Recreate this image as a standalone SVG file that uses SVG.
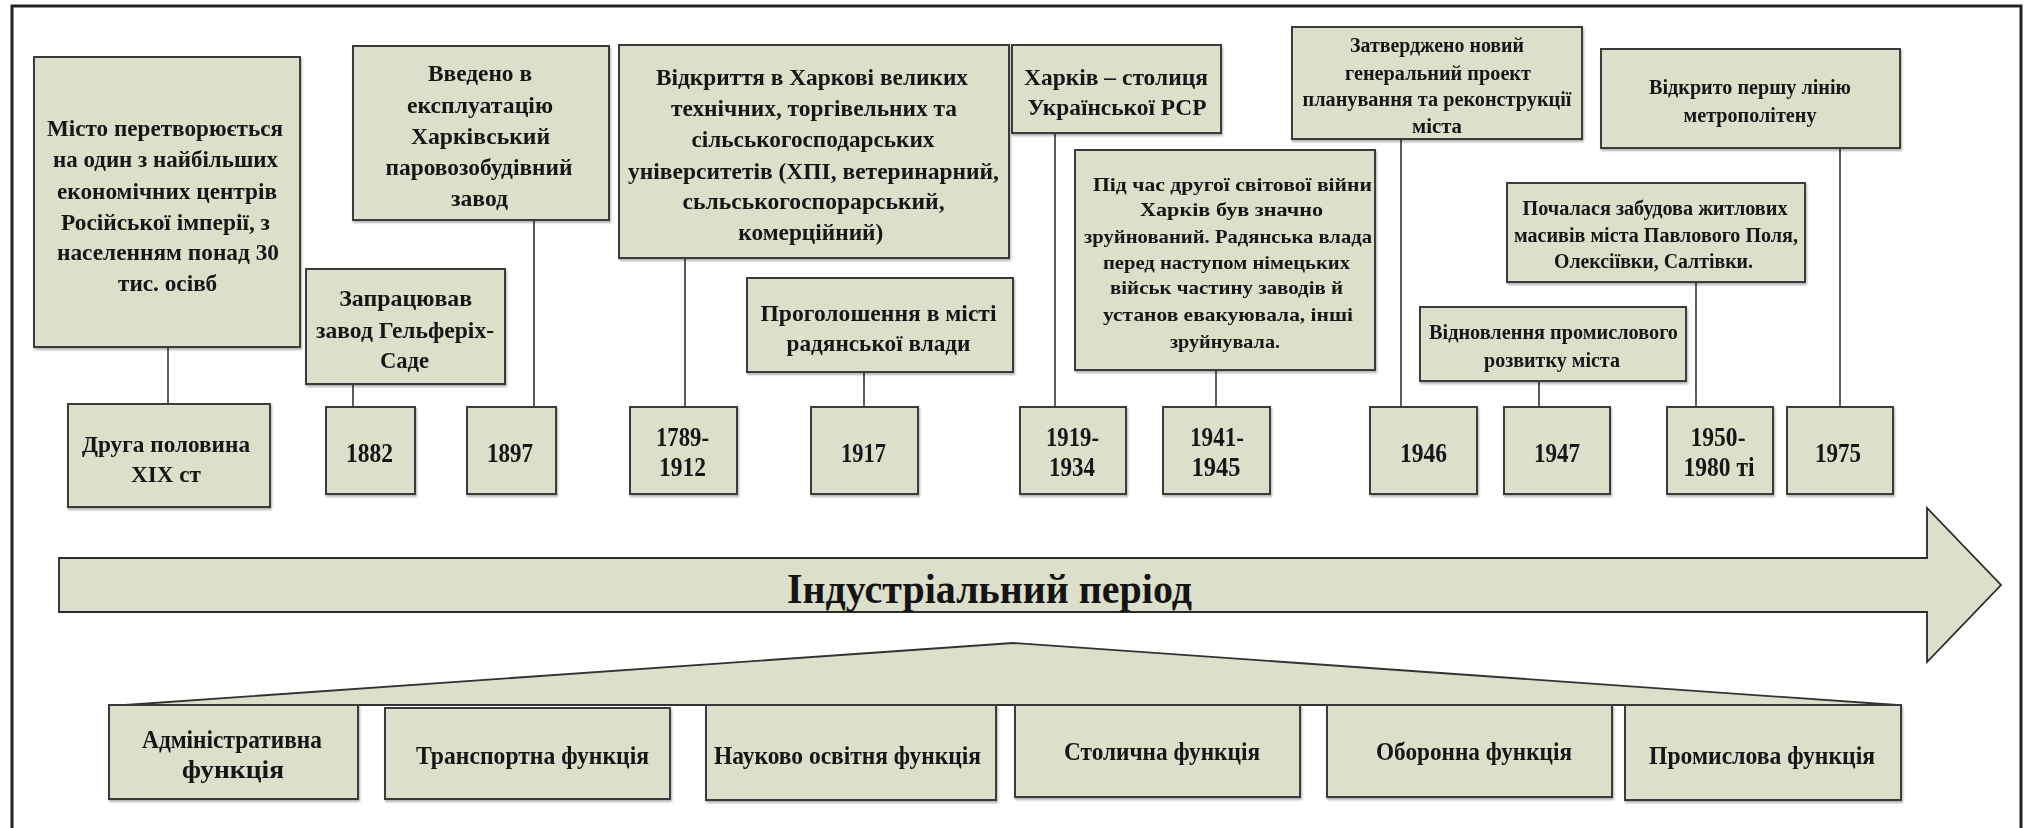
<svg xmlns="http://www.w3.org/2000/svg" width="2033" height="828" viewBox="0 0 2033 828">
<style>
.b{fill:#DCE0CA;stroke:#3a3a3a;stroke-width:2}
.sh{filter:url(#shadow)}
text{font-family:"Liberation Serif","Times New Roman",serif;font-weight:bold;fill:#141414;text-anchor:middle}
.t23{font-size:24px}
.tf{font-size:25px}
.t24{font-size:27px}
.t19{font-size:20px}
.t18{font-size:19px}
.t42{font-size:43px}
.c line{stroke:#333;stroke-width:1.6}
</style>
<defs>
<filter id="shadow" x="-5%" y="-5%" width="112%" height="115%">
<feDropShadow dx="1" dy="2" stdDeviation="1" flood-color="#000" flood-opacity="0.3"/>
</filter>
</defs>
<rect x="0" y="0" width="2033" height="828" fill="#ffffff"/>
<rect x="12" y="6" width="2009" height="830" fill="#ffffff" stroke="#222" stroke-width="3"/>

<g class="c" id="connectors">
<line x1="168" y1="347" x2="168" y2="404"/>
<line x1="353" y1="384" x2="353" y2="407"/>
<line x1="534" y1="220" x2="534" y2="407"/>
<line x1="685" y1="258" x2="685" y2="407"/>
<line x1="864" y1="372" x2="864" y2="407"/>
<line x1="1055" y1="133" x2="1055" y2="407"/>
<line x1="1216" y1="370" x2="1216" y2="407"/>
<line x1="1401" y1="139" x2="1401" y2="407"/>
<line x1="1539" y1="381" x2="1539" y2="407"/>
<line x1="1696" y1="282" x2="1696" y2="407"/>
<line x1="1840" y1="148" x2="1840" y2="407"/>
</g>

<g id="n-misto" class="sh">
<rect class="b" x="34" y="57" width="266" height="290"/>
<text class="t23" x="165" y="136" textLength="236" lengthAdjust="spacingAndGlyphs">Місто перетворюється</text>
<text class="t23" x="165.5" y="167" textLength="225" lengthAdjust="spacingAndGlyphs">на один з найбільших</text>
<text class="t23" x="167" y="199" textLength="220" lengthAdjust="spacingAndGlyphs">економічних центрів</text>
<text class="t23" x="165.5" y="230" textLength="209" lengthAdjust="spacingAndGlyphs">Російської імперії, з</text>
<text class="t23" x="168" y="260" textLength="222" lengthAdjust="spacingAndGlyphs">населенням понад 30</text>
<text class="t23" x="167.5" y="291" textLength="99" lengthAdjust="spacingAndGlyphs">тис. осівб</text>
</g>

<g id="n-druha" class="sh">
<rect class="b" x="68" y="404" width="202" height="103"/>
<text class="t23" x="166" y="452" textLength="168" lengthAdjust="spacingAndGlyphs">Друга половина</text>
<text class="t23" x="166" y="482" textLength="70" lengthAdjust="spacingAndGlyphs">XIX ст</text>
</g>

<g id="n-zapratsiuvav" class="sh">
<rect class="b" x="306" y="269" width="199" height="115"/>
<text class="t23" x="405.7" y="306" textLength="133" lengthAdjust="spacingAndGlyphs">Запрацював</text>
<text class="t23" x="405" y="338" textLength="178" lengthAdjust="spacingAndGlyphs">завод Гельферіх-</text>
<text class="t23" x="404.5" y="368" textLength="49" lengthAdjust="spacingAndGlyphs">Саде</text>
</g>

<g id="n-1882" class="sh">
<rect class="b" x="326" y="407" width="89" height="87"/>
<text class="t24" x="369.5" y="462" textLength="47" lengthAdjust="spacingAndGlyphs">1882</text>
</g>

<g id="n-vvedeno" class="sh">
<rect class="b" x="353" y="46" width="256" height="174"/>
<text class="t23" x="480" y="81" textLength="104" lengthAdjust="spacingAndGlyphs">Введено в</text>
<text class="t23" x="480" y="113" textLength="146" lengthAdjust="spacingAndGlyphs">експлуатацію</text>
<text class="t23" x="480.5" y="144" textLength="139" lengthAdjust="spacingAndGlyphs">Харківський</text>
<text class="t23" x="479" y="175" textLength="187" lengthAdjust="spacingAndGlyphs">паровозобудівний</text>
<text class="t23" x="479.5" y="206" textLength="57" lengthAdjust="spacingAndGlyphs">завод</text>
</g>

<g id="n-1897" class="sh">
<rect class="b" x="467" y="407" width="89" height="87"/>
<text class="t24" x="510" y="462" textLength="46" lengthAdjust="spacingAndGlyphs">1897</text>
</g>

<g id="n-vidkryttia" class="sh">
<rect class="b" x="619" y="45" width="390" height="213"/>
<text class="t23" x="812" y="85" textLength="312" lengthAdjust="spacingAndGlyphs">Відкриття в Харкові великих</text>
<text class="t23" x="814" y="116" textLength="286" lengthAdjust="spacingAndGlyphs">технічних, торгівельних та</text>
<text class="t23" x="813" y="147" textLength="243" lengthAdjust="spacingAndGlyphs">сільськогосподарських</text>
<text class="t23" x="813.5" y="179" textLength="371" lengthAdjust="spacingAndGlyphs">університетів (ХПІ, ветеринарний,</text>
<text class="t23" x="813.6" y="209" textLength="262" lengthAdjust="spacingAndGlyphs">сьльськогоспорарський,</text>
<text class="t23" x="810.8" y="240" textLength="145" lengthAdjust="spacingAndGlyphs">комерційний)</text>
</g>

<g id="n-1789" class="sh">
<rect class="b" x="630" y="407" width="107" height="87"/>
<text class="t24" x="682.5" y="446" textLength="53" lengthAdjust="spacingAndGlyphs">1789-</text>
<text class="t24" x="682.5" y="476" textLength="47" lengthAdjust="spacingAndGlyphs">1912</text>
</g>

<g id="n-proholoshennia" class="sh">
<rect class="b" x="747" y="278" width="266" height="94"/>
<text class="t23" x="878.5" y="321" textLength="236" lengthAdjust="spacingAndGlyphs">Проголошення в місті</text>
<text class="t23" x="878.5" y="351" textLength="184" lengthAdjust="spacingAndGlyphs">радянської влади</text>
</g>

<g id="n-1917" class="sh">
<rect class="b" x="811" y="407" width="107" height="87"/>
<text class="t24" x="863.5" y="462" textLength="45" lengthAdjust="spacingAndGlyphs">1917</text>
</g>

<g id="n-stolytsia" class="sh">
<rect class="b" x="1012" y="45" width="209" height="88"/>
<text class="t23" x="1116" y="85" textLength="184" lengthAdjust="spacingAndGlyphs">Харків – столиця</text>
<text class="t23" x="1117" y="115" textLength="179" lengthAdjust="spacingAndGlyphs">Української РСР</text>
</g>

<g id="n-1919" class="sh">
<rect class="b" x="1020" y="407" width="106" height="87"/>
<text class="t24" x="1072.5" y="446" textLength="53" lengthAdjust="spacingAndGlyphs">1919-</text>
<text class="t24" x="1072" y="476" textLength="46" lengthAdjust="spacingAndGlyphs">1934</text>
</g>

<g id="n-viina" class="sh">
<rect class="b" x="1075" y="150" width="300" height="220"/>
<text class="t18" x="1232.5" y="191" textLength="279" lengthAdjust="spacingAndGlyphs">Під час другої світової війни</text>
<text class="t18" x="1231.5" y="216" textLength="183" lengthAdjust="spacingAndGlyphs">Харків був значно</text>
<text class="t18" x="1228" y="243" textLength="288" lengthAdjust="spacingAndGlyphs">зруйнований. Радянська влада</text>
<text class="t18" x="1226.5" y="269" textLength="247" lengthAdjust="spacingAndGlyphs">перед наступом німецьких</text>
<text class="t18" x="1226.5" y="294" textLength="233" lengthAdjust="spacingAndGlyphs">військ частину заводів й</text>
<text class="t18" x="1228" y="321" textLength="250" lengthAdjust="spacingAndGlyphs">установ евакуювала, інші</text>
<text class="t18" x="1225" y="348" textLength="110" lengthAdjust="spacingAndGlyphs">зруйнувала.</text>
</g>

<g id="n-1941" class="sh">
<rect class="b" x="1163" y="407" width="107" height="87"/>
<text class="t24" x="1217" y="446" textLength="54" lengthAdjust="spacingAndGlyphs">1941-</text>
<text class="t24" x="1216" y="476" textLength="49" lengthAdjust="spacingAndGlyphs">1945</text>
</g>

<g id="n-zatverdzheno" class="sh">
<rect class="b" x="1292" y="27" width="290" height="112"/>
<text class="t19" x="1437" y="52" textLength="174" lengthAdjust="spacingAndGlyphs">Затверджено новий</text>
<text class="t19" x="1438" y="80" textLength="186" lengthAdjust="spacingAndGlyphs">генеральний проект</text>
<text class="t19" x="1437" y="106" textLength="269" lengthAdjust="spacingAndGlyphs">планування та реконструкції</text>
<text class="t19" x="1437" y="133" textLength="50" lengthAdjust="spacingAndGlyphs">міста</text>
</g>

<g id="n-1946" class="sh">
<rect class="b" x="1370" y="407" width="107" height="87"/>
<text class="t24" x="1423.5" y="462" textLength="47" lengthAdjust="spacingAndGlyphs">1946</text>
</g>

<g id="n-vidnovlennia" class="sh">
<rect class="b" x="1420" y="307" width="266" height="74"/>
<text class="t19" x="1553.5" y="339" textLength="249" lengthAdjust="spacingAndGlyphs">Відновлення промислового</text>
<text class="t19" x="1552" y="367" textLength="136" lengthAdjust="spacingAndGlyphs">розвитку міста</text>
</g>

<g id="n-1947" class="sh">
<rect class="b" x="1504" y="407" width="106" height="87"/>
<text class="t24" x="1557" y="462" textLength="46" lengthAdjust="spacingAndGlyphs">1947</text>
</g>

<g id="n-pochalasia" class="sh">
<rect class="b" x="1507" y="183" width="298" height="99"/>
<text class="t19" x="1655" y="215" textLength="265" lengthAdjust="spacingAndGlyphs">Почалася забудова житлових</text>
<text class="t19" x="1656" y="242" textLength="284" lengthAdjust="spacingAndGlyphs">масивів міста Павлового Поля,</text>
<text class="t19" x="1653.5" y="268" textLength="199" lengthAdjust="spacingAndGlyphs">Олексіївки, Салтівки.</text>
</g>

<g id="n-1950" class="sh">
<rect class="b" x="1667" y="407" width="106" height="87"/>
<text class="t24" x="1718" y="446" textLength="55" lengthAdjust="spacingAndGlyphs">1950-</text>
<text class="t24" x="1719" y="476" textLength="71" lengthAdjust="spacingAndGlyphs">1980 ті</text>
</g>

<g id="n-metro" class="sh">
<rect class="b" x="1601" y="49" width="299" height="99"/>
<text class="t19" x="1750" y="94" textLength="202" lengthAdjust="spacingAndGlyphs">Відкрито першу лінію</text>
<text class="t19" x="1750" y="122" textLength="133" lengthAdjust="spacingAndGlyphs">метрополітену</text>
</g>

<g id="n-1975" class="sh">
<rect class="b" x="1787" y="407" width="106" height="87"/>
<text class="t24" x="1838" y="462" textLength="46" lengthAdjust="spacingAndGlyphs">1975</text>
</g>

<g id="n-period">
<polygon points="59,558 1927,558 1927,508 2001,585 1927,662 1927,612 59,612" fill="#DCE0CA" stroke="#2a2a2a" stroke-width="1.8" stroke-linejoin="miter"/>
<text class="t42" x="989.5" y="603" textLength="405" lengthAdjust="spacingAndGlyphs">Індустріальний період</text>
</g>

<g id="n-triangle">
<polygon points="125,705 1013,643 1897,705" fill="#DCE0CA" stroke="#333" stroke-width="1.8"/>
</g>

<g id="n-admin" class="sh">
<rect class="b" x="109" y="705" width="249" height="94"/>
<text class="tf" x="232" y="748" textLength="180" lengthAdjust="spacingAndGlyphs">Адміністративна</text>
<text class="tf" x="233" y="778" textLength="102" lengthAdjust="spacingAndGlyphs">функція</text>
</g>

<g id="n-transport" class="sh">
<rect class="b" x="385" y="708" width="285" height="91"/>
<text class="tf" x="532.5" y="764" textLength="233" lengthAdjust="spacingAndGlyphs">Транспортна функція</text>
</g>

<g id="n-naukovo" class="sh">
<rect class="b" x="706" y="705" width="290" height="95"/>
<text class="tf" x="847.5" y="764" textLength="267" lengthAdjust="spacingAndGlyphs">Науково освітня функція</text>
</g>

<g id="n-stolychna" class="sh">
<rect class="b" x="1015" y="705" width="285" height="92"/>
<text class="tf" x="1162" y="760" textLength="196" lengthAdjust="spacingAndGlyphs">Столична функція</text>
</g>

<g id="n-oboronna" class="sh">
<rect class="b" x="1327" y="705" width="285" height="92"/>
<text class="tf" x="1474" y="760" textLength="196" lengthAdjust="spacingAndGlyphs">Оборонна функція</text>
</g>

<g id="n-promyslova" class="sh">
<rect class="b" x="1625" y="705" width="276" height="95"/>
<text class="tf" x="1762" y="764" textLength="226" lengthAdjust="spacingAndGlyphs">Промислова функція</text>
</g>
</svg>
